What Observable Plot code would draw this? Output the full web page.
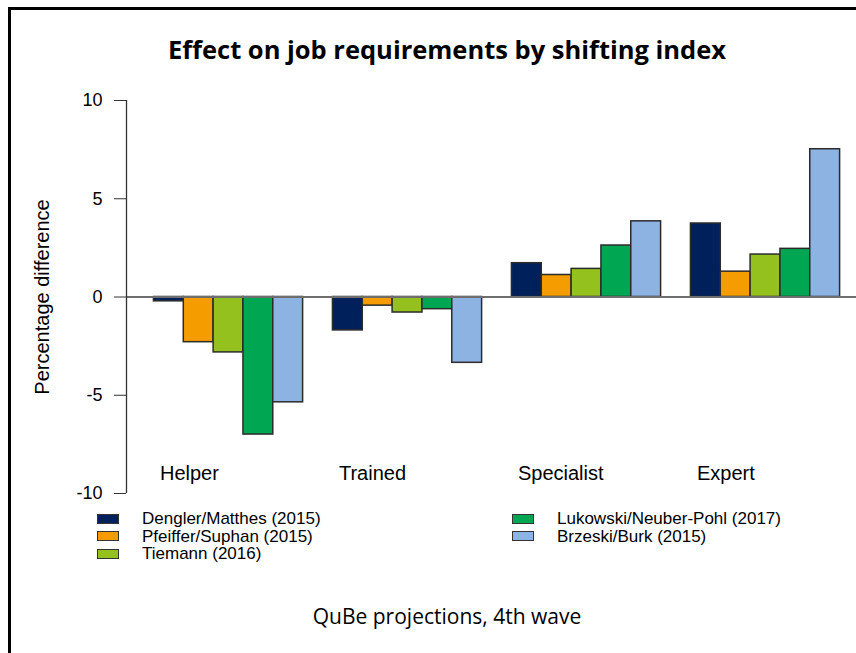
<!DOCTYPE html>
<html>
<head>
<meta charset="utf-8">
<script src="https://cdn.jsdelivr.net/npm/d3@7"></script>
<script src="https://cdn.jsdelivr.net/npm/@observablehq/plot@0.6"></script>
<style>
  html, body { margin: 0; padding: 0; overflow: hidden; background: #fff; width: 856px; height: 653px; }
  #frame { position: absolute; left: 8px; top: 7px; width: 900px; height: 700px; border: 3px solid #000; box-sizing: border-box; }
  #title { position: absolute; left: 0; top: 37px; width: 894px; text-align: center; font: 700 25.5px/25.5px "Open Sans", sans-serif; color: #000; white-space: nowrap; }
  #chart { position: absolute; left: 0; top: 80px; }
  #legend { position: absolute; left: 97px; top: 510px; display: grid; grid-auto-flow: column; grid-template-rows: repeat(3, 17.5px); grid-template-columns: 415px auto; font: 17px/17px "Liberation Sans", Arial, sans-serif; color: #000; }
  .item { display: flex; align-items: center; }
  .sw { width: 20px; height: 8px; border: 1px solid #333; margin-right: 23px; flex: none; }
  #caption { position: absolute; left: 0; top: 606px; width: 894px; text-align: center; font: 400 21px/21px "Open Sans", sans-serif; color: #000; white-space: nowrap; }
</style>
</head>
<body>
<div id="frame"></div>
<div id="title"></div>
<div id="chart"></div>
<div id="legend"></div>
<div id="caption"></div>
<script>
const titleText = "Effect on job requirements by shifting index";
const captionText = "QuBe projections, 4th wave";
const yLabel = "Percentage difference";
const categories = ["Helper", "Trained", "Specialist", "Expert"];
const series = ["Dengler/Matthes (2015)", "Pfeiffer/Suphan (2015)", "Tiemann (2016)", "Lukowski/Neuber-Pohl (2017)", "Brzeski/Burk (2015)"];
const dengler  = [-0.22, -1.70, 1.72, 3.74];
const pfeiffer = [-2.30, -0.44, 1.12, 1.29];
const tiemann  = [-2.82, -0.79, 1.43, 2.16];
const lukowski = [-7.00, -0.62, 2.62, 2.45];
const brzeski  = [-5.36, -3.35, 3.85, 7.52];
const yTicks = [-10, -5, 0, 5, 10];
const palette = ["#00205b", "#f59c00", "#95c11f", "#00a651", "#8db3e2"];

const values = [dengler, pfeiffer, tiemann, lukowski, brzeski];
const stride = series.length + 1;
const table = [];
series.forEach((s, si) => {
  categories.forEach((c, ci) => {
    table.push({category: c, series: s, value: values[si][ci], slot: ci * stride + si});
  });
});
const xDomain = [-0.92, 23.55];

document.getElementById("title").textContent = titleText;
document.getElementById("caption").textContent = captionText;

const chart = Plot.plot({
  width: 856,
  height: 425,
  marginLeft: 126,
  marginRight: 0,
  marginTop: 20,
  marginBottom: 12,
  style: {fontFamily: "'Liberation Sans', Arial, sans-serif", fontSize: "18px", color: "#000", background: "transparent", overflow: "visible"},
  x: {domain: xDomain, axis: null},
  y: {domain: [yTicks[0], yTicks[yTicks.length - 1]], axis: null},
  color: {domain: series, range: palette},
  marks: [
    Plot.rectY(table, {x1: "slot", x2: d => d.slot + 1, y1: 0, y2: "value", fill: "series", stroke: "#2b2b2b", strokeWidth: 1.5}),
    Plot.ruleY([0], {stroke: "#6e6e6e", strokeWidth: 2}),
    Plot.ruleX([xDomain[0]], {y1: yTicks[0], y2: yTicks[yTicks.length - 1], stroke: "#333", strokeWidth: 1.3}),
    Plot.axisY({ticks: yTicks, tickFormat: d => String(d), tickSize: 12, tickPadding: 12, fontSize: 18, label: null, stroke: "#333"}),
    Plot.text(categories, {x: (d, i) => i * stride, frameAnchor: "bottom", lineAnchor: "middle", dy: -20, dx: 6, textAnchor: "start", fontSize: 20}),
    Plot.text([yLabel], {frameAnchor: "left", textAnchor: "middle", lineAnchor: "middle", dx: -84, rotate: -90, fontSize: 20})
  ]
});
document.getElementById("chart").appendChild(chart);

const legend = document.getElementById("legend");
series.forEach((s, i) => {
  const item = document.createElement("div");
  item.className = "item";
  const sw = document.createElement("span");
  sw.className = "sw";
  sw.style.background = palette[i];
  const label = document.createElement("span");
  label.textContent = s;
  item.appendChild(sw);
  item.appendChild(label);
  legend.appendChild(item);
});
</script>
</body>
</html>
